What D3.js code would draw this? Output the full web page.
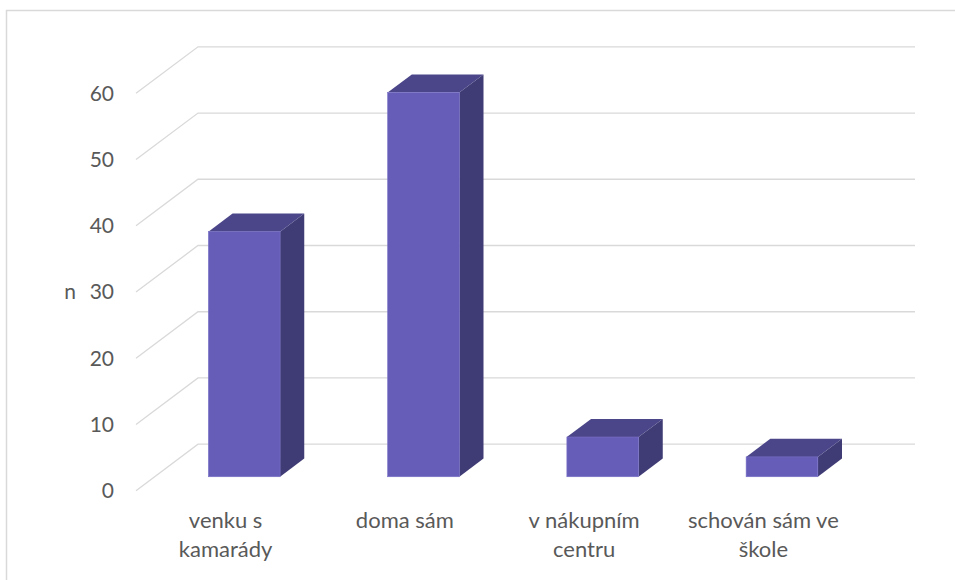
<!DOCTYPE html>
<html>
<head>
<meta charset="utf-8">
<script src="https://cdn.jsdelivr.net/npm/d3@7"></script>
<style>
  html, body { margin: 0; padding: 0; background: #ffffff; }
  svg { display: block; }
  text { font-family: Lato, "Open Sans", sans-serif; fill: #595959; }
</style>
</head>
<body>
<svg id="chart" width="955" height="580"></svg>
<script>
const categories = ["venku s kamarády", "doma sám", "v nákupním centru", "schován sám ve škole"];
const values = [37, 58, 6, 3];
const yTicks = [0, 10, 20, 30, 40, 50, 60];
const yTitle = "n";

const W = 955, H = 580;
const svg = d3.select("#chart");

// frame
svg.append("rect")
  .attr("x", 6.5).attr("y", 10.5)
  .attr("width", 1000).attr("height", 1000)
  .attr("fill", "#ffffff")
  .attr("stroke", "#d9d9d9").attr("stroke-width", 1.5);

// 3D projection parameters
const depthDX = 62, depthDY = 46.5;
const floorLeft = 136, floorRight = 853;
const y = d3.scaleLinear().domain([0, 60]).range([490.7, 93.3]);
const x = d3.scaleBand().domain(categories).range([floorLeft, floorRight]).paddingInner(0).paddingOuter(0);

const zFront = 0.3, zBack = 0.69;
const barFrac = 0.4;

// gridlines
const grid = svg.append("g");
yTicks.forEach(t => {
  const fy = y(t);
  grid.append("path")
    .attr("d", d3.line()([[floorLeft, fy], [floorLeft + depthDX, fy - depthDY], [floorRight + depthDX, fy - depthDY]]))
    .attr("fill", "none")
    .attr("stroke", "#d9d9d9")
    .attr("stroke-width", 1.3);
});

// tick labels
svg.append("g").selectAll("text").data(yTicks).join("text")
  .attr("x", 114)
  .attr("y", d => y(d))
  .attr("dy", "0.35em")
  .attr("text-anchor", "end")
  .style("font-size", "21px")
  .text(d => d);

// axis title
svg.append("text")
  .attr("x", 76)
  .attr("y", y(30))
  .attr("dy", "0.35em")
  .attr("text-anchor", "end")
  .style("font-size", "21px")
  .text(yTitle);

// bars
const colFront = "#665db8", colTop = "#4b4689", colSide = "#3f3b75";
const bars = svg.append("g");
categories.forEach((c, i) => {
  const v = values[i];
  const cx = x(c) + x.bandwidth() / 2;
  const bw = x.bandwidth() * barFrac;
  const fx0 = cx - bw / 2 + depthDX * zFront;
  const fx1 = fx0 + bw;
  const fyB = y(0) - depthDY * zFront;
  const fyT = y(v) - depthDY * zFront;
  const ddx = depthDX * (zBack - zFront), ddy = depthDY * (zBack - zFront);
  const g = bars.append("g");
  // side
  g.append("path")
    .attr("d", d3.line()([[fx1, fyB], [fx1 + ddx, fyB - ddy], [fx1 + ddx, fyT - ddy], [fx1, fyT]]) + "Z")
    .attr("fill", colSide);
  // top
  g.append("path")
    .attr("d", d3.line()([[fx0, fyT], [fx0 + ddx, fyT - ddy], [fx1 + ddx, fyT - ddy], [fx1, fyT]]) + "Z")
    .attr("fill", colTop);
  // front
  g.append("rect")
    .attr("x", fx0).attr("y", fyT)
    .attr("width", bw).attr("height", fyB - fyT)
    .attr("fill", colFront)
    .attr("stroke", "#7a72c8").attr("stroke-width", 0.6);
});

// category labels (wrapped)
const maxW = 168;
const labels = svg.append("g");
categories.forEach(c => {
  const cx = x(c) + x.bandwidth() / 2;
  const t = labels.append("text")
    .attr("x", cx).attr("y", 528)
    .attr("text-anchor", "middle")
    .style("font-size", "22px");
  const words = c.split(" ");
  let line = [];
  let lineNo = 0;
  let tspan = t.append("tspan").attr("x", cx).attr("y", 528);
  words.forEach(w => {
    line.push(w);
    tspan.text(line.join(" "));
    if (tspan.node().getComputedTextLength() > maxW && line.length > 1) {
      line.pop();
      tspan.text(line.join(" "));
      line = [w];
      lineNo++;
      tspan = t.append("tspan").attr("x", cx).attr("y", 528 + lineNo * 29).text(w);
    }
  });
});
</script>
</body>
</html>
